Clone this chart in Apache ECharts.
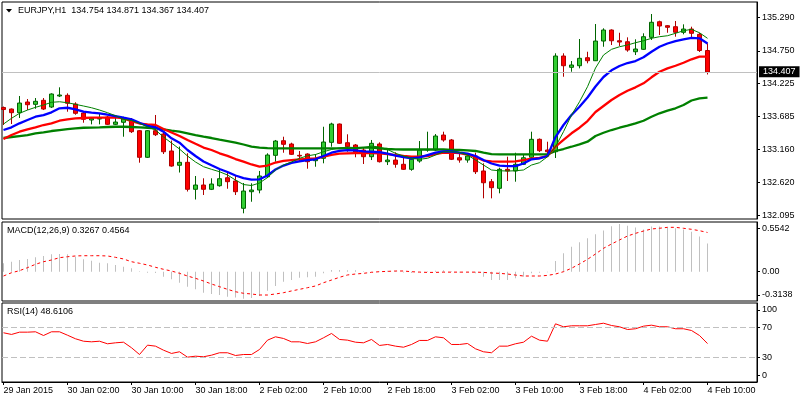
<!DOCTYPE html>
<html><head><meta charset="utf-8">
<script src="https://cdn.jsdelivr.net/npm/echarts@6/dist/echarts.min.js"></script>
<style>html,body{margin:0;padding:0;background:#fff}#c{width:800px;height:400px}</style>
</head><body><div id="c"></div>
<script>
// ---- data ----
const timeLabels = ['29 Jan 2015','30 Jan 02:00','30 Jan 10:00','30 Jan 18:00','2 Feb 02:00','2 Feb 10:00','2 Feb 18:00','3 Feb 02:00','3 Feb 10:00','3 Feb 18:00','4 Feb 02:00','4 Feb 10:00'];
const timeLabelBars = [0,8,16,24,32,40,48,56,64,72,80,88];

const open = [133.833,133.808,133.749,133.922,133.884,133.949,133.841,134.019,134.030,133.889,
133.744,133.631,133.647,133.679,133.561,133.594,133.631,133.458,133.028,133.458,
133.404,133.130,132.899,132.947,132.511,132.580,132.511,132.569,132.698,132.645,
132.204,132.472,132.499,132.714,133.060,133.296,133.243,133.060,133.081,132.973,
133.012,133.270,133.566,133.264,133.227,133.146,133.038,133.243,132.957,132.984,
132.915,132.834,132.968,133.146,133.146,133.388,133.308,133.021,132.984,133.049,
132.807,132.634,132.527,132.834,132.807,132.915,133.028,133.319,133.146,133.118,
134.665,134.482,134.508,134.638,134.589,134.907,135.085,134.912,134.896,134.734,
134.773,134.967,135.219,135.155,135.139,135.048,135.101,135.016,134.754];
const close = [133.800,133.749,133.905,133.878,133.933,133.808,134.051,134.035,133.901,133.739,
133.642,133.658,133.655,133.561,133.598,133.647,133.442,133.028,133.458,133.393,
133.118,132.887,132.947,132.511,132.580,132.511,132.596,132.682,132.634,132.472,
132.483,132.499,132.726,133.065,133.291,133.238,133.076,133.049,132.957,133.012,
133.275,133.566,133.254,133.199,133.113,133.038,133.254,132.957,132.984,132.915,
132.834,132.996,133.146,133.154,133.372,133.308,132.996,132.984,133.049,132.795,
132.617,132.537,132.834,132.807,132.915,133.021,133.319,133.135,133.118,134.665,
134.508,134.520,134.628,134.589,134.907,135.085,134.912,134.891,134.762,134.778,
134.977,135.210,135.150,135.129,135.048,135.101,135.032,134.754,134.407];
const high = [133.849,133.817,134.019,133.970,133.986,133.986,134.062,134.159,134.062,133.917,
133.760,133.674,133.739,133.695,133.679,133.684,133.663,133.469,133.469,133.712,
133.442,133.299,133.202,133.093,132.726,132.689,132.689,132.823,132.790,132.742,
132.613,132.608,132.807,133.093,133.308,133.361,133.264,133.130,133.093,133.081,
133.522,133.587,133.574,133.400,133.243,133.183,133.308,133.270,133.162,133.109,
133.028,133.049,133.291,133.442,133.404,133.442,133.324,133.093,133.093,133.102,
132.931,132.677,132.860,133.038,133.102,133.065,133.442,133.332,133.280,134.709,
134.709,134.584,134.940,134.734,135.182,135.113,135.096,135.041,134.967,134.935,
135.032,135.344,135.236,135.166,135.231,135.177,135.139,135.041,134.871];
const low = [133.550,133.566,133.663,133.792,133.813,133.792,133.825,134.002,133.765,133.716,
133.587,133.561,133.561,133.550,133.550,133.361,133.421,132.941,133.017,133.372,
133.081,132.876,132.782,132.475,132.346,132.419,132.499,132.553,132.520,132.419,
132.123,132.310,132.446,132.693,132.957,133.102,133.065,132.968,132.844,132.876,
132.931,133.199,133.243,133.118,133.028,132.920,132.984,132.944,132.903,132.860,
132.823,132.811,132.941,133.118,133.130,133.280,132.984,132.941,132.941,132.758,
132.365,132.365,132.446,132.645,132.634,132.903,133.017,133.113,133.038,133.017,
134.330,134.411,134.466,134.547,134.584,134.815,134.843,134.827,134.734,134.681,
134.762,134.924,135.004,135.041,134.977,135.016,134.951,134.730,134.367];

const maThin = [133.566,133.658,133.739,133.792,133.836,133.873,133.917,133.926,133.910,133.884,
133.857,133.829,133.792,133.749,133.700,133.642,133.623,133.577,133.522,133.469,
133.356,133.259,133.162,133.049,132.952,132.876,132.834,132.795,132.742,132.661,
132.588,132.572,132.613,132.701,132.823,132.903,132.952,133.012,133.052,133.073,
133.118,133.154,133.181,133.191,133.186,133.186,133.210,133.194,133.154,133.093,
133.049,133.012,132.996,133.012,133.065,133.118,133.118,133.109,133.065,132.984,
132.903,132.823,132.811,132.806,132.811,132.823,132.903,132.941,133.038,133.199,
133.442,133.711,133.926,134.169,134.471,134.681,134.773,134.815,134.843,134.880,
134.912,134.951,134.977,134.993,135.032,135.074,135.096,135.041,134.951];
const maBlue = [133.469,133.513,133.577,133.631,133.684,133.711,133.755,133.820,133.829,133.804,
133.765,133.749,133.739,133.716,133.695,133.668,133.642,133.587,133.534,133.513,
133.442,133.335,133.264,133.146,133.049,132.960,132.899,132.839,132.790,132.734,
132.693,132.666,132.672,132.734,132.831,132.895,132.939,132.963,132.984,132.996,
133.049,133.102,133.133,133.143,133.141,133.125,133.118,133.110,133.086,133.057,
133.033,133.012,133.028,133.065,133.102,133.122,133.122,133.105,133.089,133.049,
132.984,132.928,132.895,132.887,132.887,132.928,132.996,133.012,133.049,133.356,
133.550,133.711,133.846,133.994,134.172,134.326,134.434,134.503,134.552,134.584,
134.644,134.734,134.815,134.867,134.907,134.935,134.959,134.951,134.867];
const maRed = [133.324,133.388,133.442,133.480,133.513,133.550,133.577,133.619,133.642,133.658,
133.663,133.668,133.668,133.668,133.674,133.658,133.614,133.574,133.561,133.550,
133.485,133.429,133.372,133.307,133.246,133.186,133.146,133.093,133.052,133.000,
132.957,132.912,132.879,132.895,132.944,132.971,132.984,132.996,133.004,133.012,
133.038,133.068,133.086,133.093,133.097,133.097,133.097,133.093,133.081,133.065,
133.049,133.038,133.038,133.049,133.081,133.102,133.105,133.097,133.073,133.033,
132.976,132.963,132.957,132.957,132.963,132.984,133.005,133.017,133.049,133.199,
133.308,133.416,133.506,133.614,133.760,133.857,133.954,134.035,134.104,134.159,
134.224,134.321,134.411,134.466,134.508,134.557,134.612,134.654,134.654];
const maSlow = [133.340,133.356,133.372,133.388,133.416,133.432,133.453,133.469,133.485,133.496,
133.506,133.509,133.513,133.518,133.522,133.522,133.518,133.513,133.506,133.496,
133.480,133.458,133.442,133.416,133.388,133.361,133.340,133.312,133.291,133.267,
133.235,133.202,133.186,133.178,133.173,133.173,133.173,133.173,133.173,133.173,
133.173,133.173,133.173,133.173,133.178,133.186,133.186,133.173,133.162,133.157,
133.154,133.154,133.154,133.154,133.154,133.154,133.146,133.146,133.141,133.130,
133.102,133.081,133.076,133.076,133.076,133.076,133.076,133.076,133.076,133.130,
133.162,133.199,133.238,133.280,133.372,133.425,133.469,133.506,133.539,133.577,
133.619,133.684,133.739,133.781,133.820,133.873,133.946,133.981,133.991];

const macdHist = [0.098,0.116,0.136,0.148,0.167,0.183,0.202,0.206,0.202,0.174,
0.144,0.128,0.105,0.098,0.078,0.058,0.040,0.004,-0.012,-0.015,
-0.058,-0.088,-0.128,-0.174,-0.205,-0.244,-0.259,-0.271,-0.290,-0.300,
-0.314,-0.305,-0.283,-0.221,-0.166,-0.116,-0.097,-0.070,-0.065,-0.058,
-0.019,0.020,0.020,0.016,0.016,0.005,0.003,-0.004,0.012,0.008,
-0.010,-0.015,0.003,0.005,0.012,0.018,0.004,-0.010,-0.010,-0.019,
-0.058,-0.097,-0.097,-0.097,-0.077,-0.058,-0.019,-0.012,-0.007,0.124,
0.214,0.291,0.342,0.388,0.435,0.480,0.530,0.554,0.535,0.515,
0.490,0.525,0.525,0.515,0.505,0.490,0.465,0.410,0.327];
const macdSignal = [-0.050,-0.012,0.012,0.047,0.086,0.116,0.136,0.163,0.174,0.183,
0.186,0.186,0.186,0.183,0.167,0.148,0.116,0.098,0.078,0.051,
0.028,0.008,-0.019,-0.050,-0.077,-0.108,-0.143,-0.174,-0.205,-0.233,
-0.251,-0.259,-0.271,-0.271,-0.259,-0.244,-0.224,-0.205,-0.186,-0.166,
-0.128,-0.097,-0.065,-0.038,-0.027,-0.019,-0.007,0.000,0.004,0.008,
0.008,0.000,-0.005,-0.008,-0.008,-0.005,-0.005,-0.005,-0.005,-0.005,
-0.008,-0.015,-0.019,-0.027,-0.039,-0.050,-0.050,-0.050,-0.043,-0.027,
0.000,0.040,0.090,0.144,0.206,0.272,0.322,0.369,0.415,0.446,
0.473,0.497,0.505,0.516,0.516,0.505,0.493,0.477,0.456];
const rsi = [62.8,60.6,63.6,63.6,64.1,59.2,64.1,64.1,59.6,54.9,
51.7,50.9,51.7,48.3,49.6,50.4,43.1,34.2,46.5,45.2,
39.9,35.6,37.8,30.7,32.0,31.2,33.3,36.5,36.5,32.9,
34.2,34.2,40.8,53.1,57.5,55.3,50.9,50.9,48.7,50.9,
56.2,61.9,54.0,53.1,50.4,49.6,54.0,46.1,47.4,45.2,
43.8,47.4,52.7,52.7,57.5,56.2,47.4,47.4,48.7,41.7,
37.8,36.5,45.2,45.2,48.3,50.4,58.3,53.1,51.7,74.6,
70.7,72.0,72.0,72.0,73.7,75.4,72.4,70.7,67.1,68.1,
71.5,72.8,70.7,70.7,68.1,68.1,65.8,59.2,48.61];

const priceTicks = [132.095,132.620,133.160,133.685,134.225,134.750,135.290];
const lastPrice = 134.407;
const macdLabels = ['0.5542','0.00','-0.3138'];
const rsiLabels = ['100','70','30','0'];
const rsiLevels = [70, 30];
const titleMain = 'EURJPY,H1  134.754 134.871 134.367 134.407';
const titleMacd = 'MACD(12,26,9) 0.3267 0.4564';
const titleRsi = 'RSI(14) 48.6106';

// ---- chart ----
const FONT = 'Liberation Sans';
const chart = echarts.init(document.getElementById('c'), null, {renderer: 'canvas'});
const idx = (arr) => arr.map((v, i) => [i, v]);
const xMin = -0.1875, xMax = 94.1875;
const gridBase = {left: 2, right: 43, show: true, borderColor: '#000', borderWidth: 1, backgroundColor: 'transparent'};
const hiddenX = (gi) => ({type: 'value', gridIndex: gi, min: xMin, max: xMax, show: false, axisLine: {onZero: false}});
const yCommon = {
  position: 'right', scale: true,
  axisLine: {show: true, onZero: false, lineStyle: {color: '#000'}},
  splitLine: {show: false},
  axisLabel: {color: '#000', fontFamily: FONT, fontSize: 9, margin: 5},
  axisTick: {show: true, length: 3, lineStyle: {color: '#000'}}
};

const option = {
  animation: false,
  backgroundColor: '#fff',
  grid: [
    Object.assign({top: 2, height: 217}, gridBase),
    Object.assign({top: 222, height: 79}, gridBase),
    Object.assign({top: 303, height: 79}, gridBase)
  ],
  xAxis: [
    hiddenX(0), hiddenX(1),
    {type: 'value', gridIndex: 2, min: xMin, max: xMax, position: 'bottom',
     axisLine: {show: true, onZero: false, lineStyle: {color: '#000'}},
     splitLine: {show: false},
     axisTick: {show: true, length: 3, customValues: timeLabelBars, lineStyle: {color: '#000'}},
     axisLabel: {customValues: timeLabelBars, align: 'left', margin: 4, color: '#000', fontFamily: FONT, fontSize: 9,
       formatter: (v) => { const k = timeLabelBars.indexOf(Math.round(v)); return k >= 0 ? timeLabels[k] : ''; }}
    }
  ],
  yAxis: [
    Object.assign({}, yCommon, {gridIndex: 0, min: 132.031, max: 135.538,
      axisLabel: Object.assign({}, yCommon.axisLabel, {customValues: priceTicks, formatter: (v) => v.toFixed(3)}),
      axisTick: Object.assign({}, yCommon.axisTick, {customValues: priceTicks})}),
    Object.assign({}, yCommon, {gridIndex: 1, min: -0.3407, max: 0.578,
      axisLabel: Object.assign({}, yCommon.axisLabel, {customValues: [0.504, 0, -0.271],
        formatter: (v) => v > 0.25 ? macdLabels[0] : (v < -0.1 ? macdLabels[2] : macdLabels[1])}),
      axisTick: Object.assign({}, yCommon.axisTick, {customValues: [0.504, 0, -0.271]})}),
    Object.assign({}, yCommon, {gridIndex: 2, min: -2, max: 102,
      axisLabel: Object.assign({}, yCommon.axisLabel, {customValues: [92.8, 70, 30, 6.9],
        formatter: (v) => v > 80 ? rsiLabels[0] : (v > 50 ? rsiLabels[1] : (v > 15 ? rsiLabels[2] : rsiLabels[3]))}),
      axisTick: Object.assign({}, yCommon.axisTick, {customValues: [92.8, 70, 30, 6.9]})})
  ],
  series: [
    {type: 'candlestick', xAxisIndex: 0, yAxisIndex: 0, z: 2,
     data: open.map((o, i) => [i, o, close[i], low[i], high[i]]),
     encode: {x: 0, y: [1, 2, 3, 4]},
     barWidth: 5,
     itemStyle: {color: '#32cd32', color0: '#ff0000', borderColor: '#006400', borderColor0: '#b00000', borderWidth: 1},
     markLine: {symbol: ['none', 'none'], silent: true, animation: false,
       lineStyle: {color: '#c0c0c0', type: 'solid', width: 1},
       label: {show: true, position: 'end', distance: 2, formatter: () => lastPrice.toFixed(3),
         backgroundColor: '#000', color: '#fff', fontFamily: FONT, fontSize: 9, padding: [1, 4, 0, 4], lineHeight: 10},
       data: [{yAxis: lastPrice}]}
    },
    {type: 'line', xAxisIndex: 0, yAxisIndex: 0, z: 3, data: idx(maSlow), showSymbol: false, lineStyle: {color: '#008000', width: 2.3}},
    {type: 'line', xAxisIndex: 0, yAxisIndex: 0, z: 3, data: idx(maRed), showSymbol: false, lineStyle: {color: '#ff0000', width: 2.3}},
    {type: 'line', xAxisIndex: 0, yAxisIndex: 0, z: 3, data: idx(maBlue), showSymbol: false, lineStyle: {color: '#0000ff', width: 2.3}},
    {type: 'line', xAxisIndex: 0, yAxisIndex: 0, z: 3, data: idx(maThin), showSymbol: false, lineStyle: {color: '#008000', width: 1}},
    {type: 'bar', xAxisIndex: 1, yAxisIndex: 1, data: idx(macdHist), barWidth: 1, itemStyle: {color: '#c0c0c0'}},
    {type: 'line', xAxisIndex: 1, yAxisIndex: 1, data: idx(macdSignal), showSymbol: false, lineStyle: {color: '#ff0000', width: 1, type: [3, 3]}},
    {type: 'line', xAxisIndex: 2, yAxisIndex: 2, data: idx(rsi), showSymbol: false, lineStyle: {color: '#ff0000', width: 1},
     markLine: {symbol: ['none', 'none'], silent: true, animation: false, label: {show: false},
       lineStyle: {color: '#c0c0c0', type: [6, 3], width: 1},
       data: rsiLevels.map(v => ({yAxis: v}))}}
  ],
  graphic: [
    {type: 'polygon', shape: {points: [[6, 9], [12, 9], [9, 12.5]]}, style: {fill: '#000'}},
    {type: 'text', x: 18, y: 11, style: {text: titleMain, fill: '#000', font: '9px "Liberation Sans"', textVerticalAlign: 'middle'}},
    {type: 'text', x: 7, y: 231, style: {text: titleMacd, fill: '#000', font: '9px "Liberation Sans"', textVerticalAlign: 'middle'}},
    {type: 'text', x: 7, y: 312, style: {text: titleRsi, fill: '#000', font: '9px "Liberation Sans"', textVerticalAlign: 'middle'}}
  ]
};
chart.setOption(option);
</script>
</body></html>
